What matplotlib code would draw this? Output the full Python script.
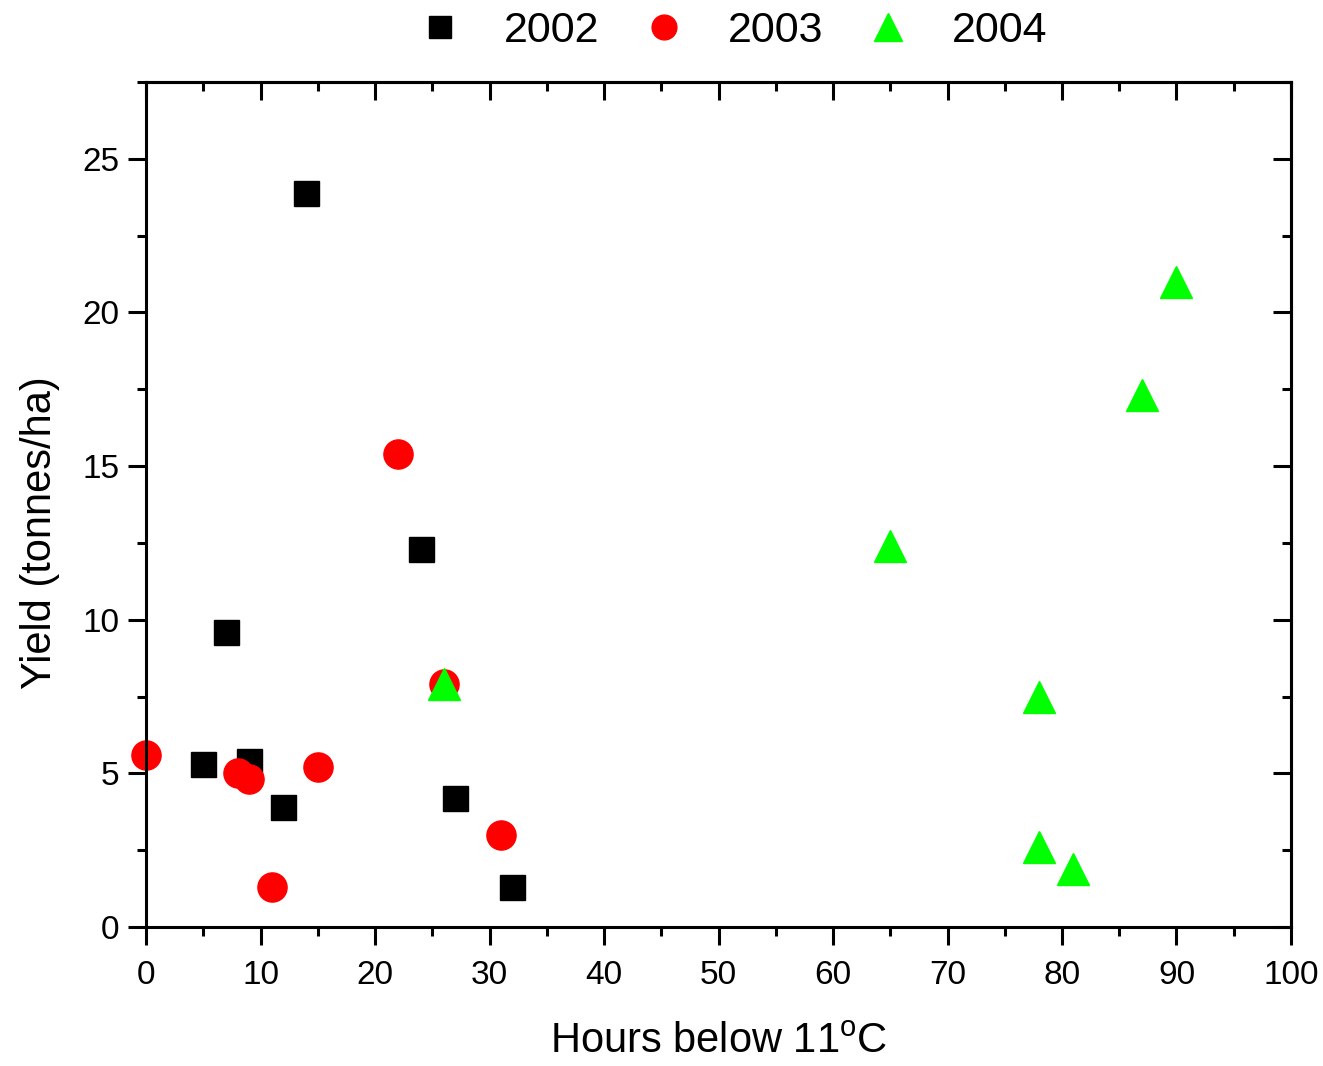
import matplotlib
matplotlib.use("Agg")
import matplotlib.pyplot as plt
from matplotlib.ticker import MultipleLocator

plt.rcParams['font.family'] = ['Liberation Sans', 'DejaVu Sans']
plt.rcParams['mathtext.fontset'] = 'custom'
plt.rcParams['mathtext.rm'] = 'Liberation Sans'

# hours below 11 C vs yield
x2002 = [5, 7, 9, 12, 14, 24, 27, 32]
y2002 = [5.3, 9.6, 5.4, 3.9, 23.9, 12.3, 4.2, 1.3]

x2003 = [0, 8, 9, 11, 15, 22, 26, 31]
y2003 = [5.6, 5.0, 4.8, 1.3, 5.2, 15.4, 7.9, 3.0]

x2004 = [26, 65, 78, 78, 81, 87, 90]
y2004 = [7.9, 12.4, 7.5, 2.6, 1.9, 17.3, 21.0]

fig = plt.figure(figsize=(13.23, 10.66), dpi=100)
ax = fig.add_axes([0.1104, 0.1304, 0.8654, 0.7927])

ax.plot(x2002, y2002, 's', color='black', markersize=18, linestyle='none', label='2002', clip_on=False)
ax.plot(x2003, y2003, 'o', color='#ff0000', markersize=21, linestyle='none', label='2003', clip_on=False)
ax.plot(x2004, y2004, '^', color='#00ff00', markersize=23, linestyle='none', label='2004', clip_on=False)

ax.set_xlim(0, 100)
ax.set_ylim(0, 27.5)
ax.xaxis.set_major_locator(MultipleLocator(10))
ax.xaxis.set_minor_locator(MultipleLocator(5))
ax.yaxis.set_major_locator(MultipleLocator(5))
ax.yaxis.set_minor_locator(MultipleLocator(2.5))

for s in ax.spines.values():
    s.set_linewidth(2.2)

ax.tick_params(which='both', direction='out', width=2.2, labelsize=24,
               top=False, right=False)
ax.tick_params(which='major', length=13, pad=6)
ax.tick_params(axis='x', which='major', pad=11)
ax.tick_params(which='minor', length=6.5)

# mirrored ticks pointing inward on top / right
axt = ax.secondary_xaxis('top')
axt.xaxis.set_major_locator(MultipleLocator(10))
axt.xaxis.set_minor_locator(MultipleLocator(5))
axt.tick_params(which='both', direction='in', width=2.2, labeltop=False)
axt.tick_params(which='major', length=13)
axt.tick_params(which='minor', length=6.5)
axt.spines['top'].set_linewidth(2.2)
axr = ax.secondary_yaxis('right')
axr.yaxis.set_major_locator(MultipleLocator(5))
axr.yaxis.set_minor_locator(MultipleLocator(2.5))
axr.tick_params(which='both', direction='in', width=2.2, labelright=False)
axr.tick_params(which='major', length=13)
axr.tick_params(which='minor', length=6.5)
axr.spines['right'].set_linewidth(2.2)

ax.set_xlabel('Hours below 11$^\\mathrm{o}$C', fontsize=30, labelpad=22)
ax.set_ylabel('Yield (tonnes/ha)', fontsize=30)
ax.yaxis.set_label_coords(-0.075, 0.467)

fig.legend(loc='upper center', bbox_to_anchor=(0.546, 1.026), ncol=3, frameon=False,
           fontsize=31, markerscale=0.85, handletextpad=0.48, columnspacing=0.5)

fig.savefig('out.png', dpi=100)
